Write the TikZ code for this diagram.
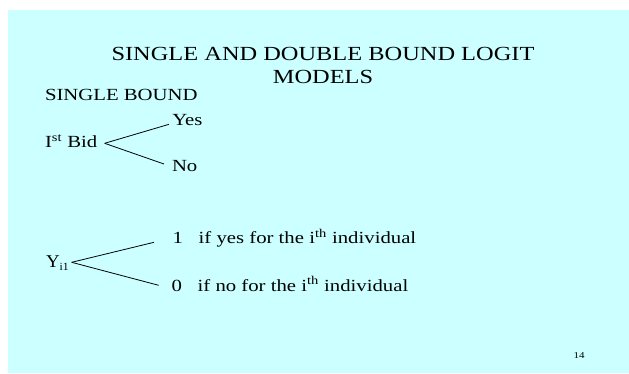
\documentclass[tikz,border=0pt]{standalone}
\usepackage{fontspec}
\setmainfont{Liberation Serif}
\usetikzlibrary{calc}
\definecolor{slidecyan}{RGB}{204,255,255}
\newcommand{\wide}[1]{\scalebox{1.22}[1]{#1}}

\begin{document}
\begin{tikzpicture}[x=1pt, y=-1pt,
        every node/.style={inner sep=0pt, outer sep=0pt, anchor=base west},
        titletext/.style={font=\fontsize{20}{22.3}\selectfont, align=center, anchor=north},
        bodytext/.style={font=\fontsize{17}{20}\selectfont},
        branch/.style={line width=0.8pt, black}]
    \useasboundingbox (0,0) rectangle (629,373);

    % --- Slide background ---
    \fill[slidecyan] (8,10) rectangle (629,373);

    % --- Title ---
    \node[titletext] (title) at (323,47.7)
        {\wide{SINGLE AND DOUBLE BOUND LOGIT}\\ \wide{MODELS}};
    \node[bodytext] (single) at (45,100.7) {\wide{SINGLE BOUND}};

    % --- First bid tree ---
    \node[bodytext] (bid) at (45,147.3) {\wide{I\textsuperscript{st} Bid}};
    \node[bodytext] (yes) at (172.3,125.7) {\wide{Yes}};
    \node[bodytext] (no) at (172,171.7) {\wide{No}};
    \draw[branch] ([shift={(7.3,-4)}]bid.base east) -- ([shift={(-3.3,-1.4)}]yes.base west);
    \draw[branch] ([shift={(7.3,-4)}]bid.base east) -- ([shift={(-8,-7.7)}]no.base west);

    % --- Response variable ---
    \node[bodytext] (yvar) at (46,267.3)
        {\scalebox{1.05}[1]{\fontsize{18}{20}\selectfont Y\raisebox{-3pt}{\fontsize{11}{12}\selectfont i1}}};
    \node[bodytext] (one) at (172.7,243.3)
        {\wide{1\hspace{12.8pt}if yes for the i\textsuperscript{th} individual}};
    \node[bodytext] (zero) at (171.7,291)
        {\wide{0\hspace{12.8pt}if no for the i\textsuperscript{th} individual}};
    \draw[branch] ([shift={(3,-5)}]yvar.base east) -- ([shift={(-18.7,-1)}]one.base west);
    \draw[branch] ([shift={(3,-5)}]yvar.base east) -- ([shift={(-13,-5.7)}]zero.base west);

    % --- Page number ---
    \node[font=\fontsize{9}{10}\selectfont] (page) at (573.6,358) {\wide{14}};
\end{tikzpicture}
\end{document}
